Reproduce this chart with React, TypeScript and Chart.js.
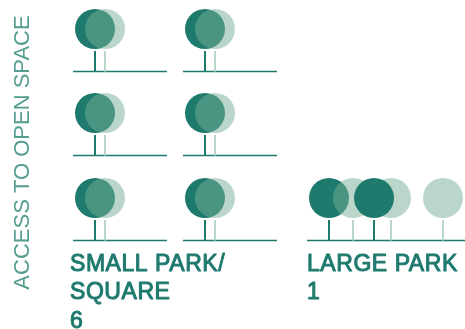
import React, { useEffect, useRef } from "react";
import { Chart, registerables } from "chart.js";

Chart.register(...registerables);

const DARK = "#1f7a6e";
const LIGHT_FILL = "rgba(117,173,150,0.5)";
const LIGHT_STEM = "#bad7cb";
const TITLE_COLOR = "#559d90";

const yAxisTitle = "ACCESS TO OPEN SPACE";

// Ground level of each row of trees, and the crown centre height
const smallColumnsDark = [95, 205];
const smallColumnsLight = [105, 215];
const smallCrownY = [29, 113, 198];
const smallTrunkTopY = [51, 135, 220];
const smallGroundY = [71.5, 155.5, 240.5];
const smallGroundStart = [73, 183];
const smallGroundEnd = [167, 277];

const largeDarkBack = [329];
const largeLight = [353, 391, 443];
const largeDarkFront = [374];
const largeCrownY = 198;
const largeTrunkTopY = 220;
const largeGroundY = 240.5;
const largeGroundStart = 307;
const largeGroundEnd = 465;

const smallLabel = ["SMALL PARK/", "SQUARE", "6"];
const largeLabel = ["LARGE PARK", "1"];
const smallLabelX = 70;
const largeLabelX = 307;
const labelLinesY = [270.5, 299, 328];

type Pt = { x: number; y: number };

const segments = (pairs: [Pt, Pt][]) => {
  const out: Pt[] = [];
  pairs.forEach(([a, b]) => out.push(a, b, { x: a.x, y: NaN }));
  return out;
};

const smallCrowns = (xs: number[]) =>
  smallCrownY.flatMap((y) => xs.map((x) => ({ x, y })));

const smallTrunks = (xs: number[]) =>
  smallTrunkTopY.flatMap((top, i) =>
    xs.map((x) => [{ x, y: top }, { x, y: smallGroundY[i] }] as [Pt, Pt])
  );

const largeCrowns = (xs: number[]) => xs.map((x) => ({ x, y: largeCrownY }));
const largeTrunks = (xs: number[]) =>
  xs.map((x) => [{ x, y: largeTrunkTopY }, { x, y: largeGroundY }] as [Pt, Pt]);

const groundPairs: [Pt, Pt][] = [
  ...smallGroundY.flatMap((y) =>
    smallGroundStart.map(
      (s, i) => [{ x: s, y }, { x: smallGroundEnd[i], y }] as [Pt, Pt]
    )
  ),
  [{ x: largeGroundStart, y: largeGroundY }, { x: largeGroundEnd, y: largeGroundY }],
];

const crownSet = (label: string, data: Pt[], color: string, order: number) => ({
  label,
  data,
  order,
  showLine: false,
  pointRadius: 20,
  pointHoverRadius: 20,
  pointBorderWidth: 0,
  pointBackgroundColor: color,
  clip: false as const,
});

const lineSet = (label: string, data: Pt[], color: string, width: number, order: number) => ({
  label,
  data,
  order,
  showLine: true,
  spanGaps: false,
  pointRadius: 0,
  borderColor: color,
  borderWidth: width,
  clip: false as const,
});

const labelsPlugin = {
  id: "parkLabels",
  afterDraw(chart: any) {
    const { ctx, scales } = chart;
    ctx.save();
    ctx.font = '23px "Liberation Sans"';
    ctx.letterSpacing = "0.55px";
    ctx.fillStyle = DARK;
    ctx.strokeStyle = DARK;
    ctx.lineWidth = 1;
    ctx.lineJoin = "round";
    ctx.textBaseline = "alphabetic";
    const put = (t: string, xv: number, i: number) => {
      const px = scales.x.getPixelForValue(xv);
      const py = scales.y.getPixelForValue(labelLinesY[i]);
      ctx.fillText(t, px, py);
      ctx.strokeText(t, px, py);
    };
    smallLabel.forEach((t, i) => put(t, smallLabelX, i));
    largeLabel.forEach((t, i) => put(t, largeLabelX, i));
    ctx.restore();
  },
};

export default function App() {
  const ref = useRef<HTMLCanvasElement>(null);
  useEffect(() => {
    const chart = new Chart(ref.current!, {
      type: "scatter",
      data: {
        datasets: [
          crownSet("Large dark front", largeCrowns(largeDarkFront), DARK, 1),
          crownSet("Light crowns", [...smallCrowns(smallColumnsLight), ...largeCrowns(largeLight)], LIGHT_FILL, 2),
          crownSet("Dark crowns", [...smallCrowns(smallColumnsDark), ...largeCrowns(largeDarkBack)], DARK, 3),
          lineSet("Dark trunks", segments([...smallTrunks(smallColumnsDark), ...largeTrunks([...largeDarkBack, ...largeDarkFront])]), DARK, 2, 4),
          lineSet("Light trunks", segments([...smallTrunks(smallColumnsLight), ...largeTrunks(largeLight)]), LIGHT_STEM, 2, 5),
          lineSet("Ground", segments(groundPairs), DARK, 1.3, 6),
        ] as any,
      },
      options: {
        responsive: false,
        animation: false,
        layout: { autoPadding: false, padding: { left: 0, right: 0, top: 0, bottom: 24 } },
        plugins: { legend: { display: false }, tooltip: { enabled: false }, title: { display: false } },
        events: [],
        scales: {
          x: { type: "linear", display: false, min: 44, max: 465 },
          y: {
            type: "linear",
            reverse: true,
            min: 0,
            max: 305,
            grid: { display: false },
            border: { display: false },
            ticks: { display: false },
            afterFit: (s: any) => {
              s.width = 44;
            },
            title: {
              display: true,
              text: yAxisTitle,
              color: TITLE_COLOR,
              font: { family: '"Liberation Sans"', size: 22, weight: "normal" },
              padding: { top: 10, bottom: 0 },
            },
          },
        },
      } as any,
      plugins: [labelsPlugin],
    });
    return () => chart.destroy();
  }, []);
  return (
    <div style={{ position: "absolute", left: 0, top: 0, width: 465, height: 329, background: "#fff" }}>
      <canvas ref={ref} width={465} height={329} style={{ display: "block" }} />
    </div>
  );
}
